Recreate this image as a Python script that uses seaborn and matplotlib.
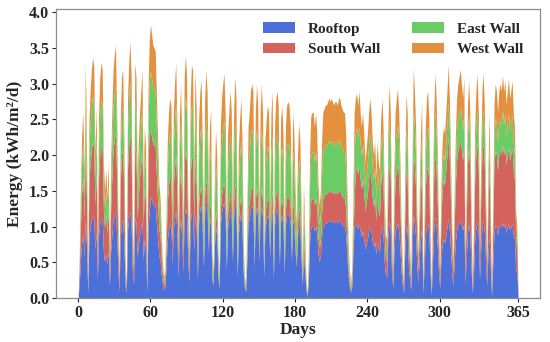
"""Daily PV energy by surface, stacked over one year."""

import matplotlib
matplotlib.use("Agg")
import matplotlib.pyplot as plt
import numpy as np
import seaborn as sns

days = np.arange(0, 366)
surfaces = ["Rooftop", "South Wall", "East Wall", "West Wall"]
x_ticks = [0, 60, 120, 180, 240, 300, 365]
y_ticks = [0.0, 0.5, 1.0, 1.5, 2.0, 2.5, 3.0, 3.5, 4.0]

# kWh/m2/d, one value per day
rooftop = [
    0, .20, .54, .78, .88, .58, 1.12, .71, .07, .85,
    .99, 1.09, 1.15, 1.10, .68, .92, .27, .88, 1.05, 1.12,
    1.09, .65, .51, .61, .48, .65, .17, .65, .88, 1.09,
    1.16, 1.21, .88, .41, .10, .85, 1.05, 1.09, .75, .17,
    .07, .95, 1.12, 1.22, 1.05, .34, .20, 1.12, 1.05, .58,
    .75, .88, .99, 1.09, .54, .82, .71, .07, .99, 1.22,
    1.42, 1.37, 1.31, 1.30, 1.28, 1.04, .81, .59, .52, .33,
    .19, .11, .15, .44, .81, .96, 1.04, 1.00, .48, .96,
    1.11, 1.22, .89, .30, .93, 1.11, .81, .37, 1.15, 1.26,
    1.15, .52, .22, 1.04, 1.20, 1.18, .67, 1.18, .96, .26,
    1.08, 1.25, 1.31, .95, .43, 1.20, 1.37, 1.25, .65, 1.03,
    1.14, .26, .17, .69, 1.01, .86, .30, .13, 1.03, 1.20,
    1.29, 1.35, 1.12, .39, .99, 1.12, 1.25, 1.14, .52, 1.12,
    1.33, 1.20, .30, .90, 1.08, 1.20, .95, .34, .13, .09,
    .52, 1.03, 1.12, 1.25, 1.29, 1.25, .43, 1.12, 1.29, 1.16,
    .52, 1.12, 1.29, 1.12, .30, .95, 1.08, 1.16, 1.12, .56,
    1.12, 1.25, .26, 1.03, 1.20, 1.25, 1.16, .47, 1.08, 1.16,
    .99, .34, 1.03, 1.16, 1.18, 1.16, 1.03, .52, 1.12, .99,
    .65, .43, .86, 1.05, .95, .52, .18, .62, .35, .12,
    .02, .23, .78, .99, 1.01, 1.01, .94, 1.01, .90, .62,
    .51, .59, .86, 1.01, 1.03, 1.05, 1.05, 1.07, 1.09, 1.07,
    1.09, 1.07, 1.05, 1.07, 1.07, 1.05, 1.09, 1.09, 1.05, 1.03,
    1.01, 1.01, .90, .59, .31, .16, .08, .16, .59, 1.01,
    1.01, 1.03, .97, 1.04, .94, .86, .94, .83, .68, .76,
    .83, .94, 1.01, .94, .79, .72, .79, .61, .79, .68,
    .65, .90, 1.01, .86, .50, .32, .29, .86, 1.08, .94,
    .36, .14, .65, .94, 1.01, 1.05, .94, .68, .36, .18,
    .07, .65, 1.03, .94, .43, .25, .11, .68, 1.16, 1.04,
    .86, .43, .22, .54, .83, .99, .07, .40, .86, 1.01,
    1.04, .90, .36, .04, .50, .94, 1.13, 1.01, .72, .36,
    .14, .54, .75, .82, .78, .88, .99, 1.11, .95, .65,
    .34, .17, .51, .78, .95, 1.02, 1.05, 1.09, 1.02, .95,
    1.05, .20, .54, .92, 1.04, .88, .41, .07, .34, .82,
    .99, 1.07, .88, .27, .68, .99, 1.07, .92, .51, .17,
    .61, .88, .41, .02, .48, .92, 1.02, .99, .88, .99,
    1.02, .99, 1.06, .99, 1.04, .92, .99, 1.04, .95, .99,
    1.04, .88, .82, .41, .34, 0,
]

south_wall = [
    0, .19, .50, .71, .81, .53, 1.02, .65, .06, .78,
    .90, .99, 1.04, 1.01, .62, .84, .25, .81, .96, 1.02,
    .99, .59, .47, .56, .43, .59, .16, .59, .81, .99,
    1.05, 1.10, .81, .37, .09, .78, .96, .99, .68, .16,
    .06, .87, 1.02, 1.12, .96, .31, .19, 1.02, .96, .53,
    .68, .81, .90, .99, .50, .74, .65, .06, .90, 1.12,
    .92, .89, .85, .84, .83, .67, .53, .38, .34, .22,
    .12, .07, .10, .29, .53, .62, .67, .65, .31, .62,
    .72, .79, .58, .19, .60, .72, .53, .24, .74, .82,
    .74, .34, .14, .67, .78, .77, .43, .77, .62, .17,
    .23, .26, .27, .20, .09, .25, .29, .26, .14, .22,
    .24, .05, .04, .14, .21, .18, .06, .03, .22, .25,
    .27, .28, .23, .08, .21, .23, .26, .24, .11, .23,
    .28, .25, .06, .19, .23, .25, .20, .07, .03, .02,
    .11, .22, .23, .26, .27, .26, .09, .23, .27, .24,
    .11, .23, .27, .23, .06, .20, .23, .24, .23, .12,
    .23, .26, .05, .22, .25, .26, .24, .10, .23, .24,
    .21, .07, .22, .24, .25, .24, .22, .11, .23, .21,
    .14, .09, .18, .22, .20, .11, .07, .24, .14, .05,
    .01, .09, .30, .38, .39, .39, .36, .39, .35, .24,
    .20, .22, .33, .39, .40, .41, .41, .41, .42, .41,
    .42, .41, .41, .41, .41, .41, .42, .42, .41, .40,
    .39, .39, .35, .22, .12, .06, .03, .06, .22, .39,
    .78, .80, .76, .81, .73, .67, .73, .64, .53, .59,
    .64, .73, .78, .73, .62, .56, .62, .48, .62, .53,
    .50, .70, .78, .67, .39, .25, .22, .67, .84, .73,
    .28, .11, .50, .73, .78, .82, .73, .53, .28, .14,
    .06, .50, .80, .73, .34, .20, .08, .53, .90, .81,
    .67, .34, .17, .42, .64, .77, .06, .31, .67, .78,
    .81, .70, .28, .03, .39, .73, .88, .78, .56, .28,
    .14, .56, .77, .84, .81, .91, 1.02, 1.14, .98, .66,
    .35, .18, .52, .81, .98, 1.05, 1.09, 1.12, 1.05, .98,
    1.09, .21, .56, .95, 1.07, .91, .42, .07, .35, .84,
    1.02, 1.10, .91, .28, .70, 1.02, 1.10, .95, .52, .18,
    .63, .91, .42, .02, .49, .95, 1.05, 1.02, .91, 1.02,
    1.05, 1.02, 1.10, 1.02, 1.07, .95, 1.02, 1.07, .98, 1.02,
    1.07, .91, .84, .42, .35, 0,
]

east_wall = [
    0, .11, .30, .44, .49, .32, .63, .40, .04, .47,
    .55, .61, .64, .62, .38, .51, .15, .49, .59, .63,
    .61, .36, .29, .34, .27, .36, .10, .36, .49, .61,
    .65, .67, .49, .23, .06, .47, .59, .61, .42, .10,
    .04, .53, .63, .68, .59, .19, .11, .63, .59, .32,
    .42, .49, .55, .61, .30, .46, .40, .04, .55, .68,
    .84, .81, .78, .77, .76, .62, .48, .35, .31, .20,
    .11, .07, .09, .26, .48, .57, .62, .59, .29, .57,
    .66, .73, .53, .18, .55, .66, .48, .22, .68, .75,
    .68, .31, .13, .62, .72, .70, .40, .70, .57, .15,
    .68, .78, .82, .59, .27, .76, .86, .78, .41, .65,
    .72, .16, .11, .43, .64, .54, .19, .08, .65, .76,
    .81, .85, .70, .24, .62, .70, .78, .72, .32, .70,
    .84, .76, .19, .57, .68, .76, .59, .22, .08, .05,
    .32, .65, .70, .78, .81, .78, .27, .70, .81, .73,
    .32, .70, .81, .70, .19, .59, .68, .73, .70, .35,
    .70, .78, .16, .65, .76, .78, .73, .30, .68, .73,
    .62, .22, .65, .73, .74, .73, .65, .32, .70, .62,
    .41, .27, .54, .66, .59, .32, .11, .40, .22, .07,
    .01, .15, .50, .64, .65, .65, .60, .65, .57, .40,
    .32, .38, .55, .65, .66, .68, .68, .69, .70, .69,
    .70, .69, .68, .69, .69, .68, .70, .70, .68, .66,
    .65, .65, .57, .38, .20, .10, .05, .10, .38, .65,
    .53, .55, .51, .55, .49, .46, .49, .44, .36, .40,
    .44, .49, .53, .49, .42, .38, .42, .32, .42, .36,
    .34, .48, .53, .46, .27, .17, .15, .46, .57, .49,
    .19, .08, .34, .49, .53, .56, .49, .36, .19, .10,
    .04, .34, .54, .49, .23, .13, .06, .36, .61, .55,
    .46, .23, .11, .29, .44, .52, .04, .21, .46, .53,
    .55, .48, .19, .02, .27, .49, .60, .53, .38, .19,
    .06, .24, .33, .36, .34, .39, .43, .49, .42, .29,
    .15, .07, .23, .34, .42, .45, .46, .48, .45, .42,
    .46, .09, .24, .40, .46, .39, .18, .03, .15, .36,
    .43, .47, .39, .12, .30, .43, .47, .40, .23, .07,
    .27, .39, .18, .01, .21, .40, .45, .43, .39, .43,
    .45, .43, .47, .43, .46, .40, .43, .46, .42, .43,
    .46, .39, .36, .18, .15, 0,
]

west_wall = [
    0, .10, .26, .37, .42, .27, .53, .34, .03, .40,
    .46, .51, .54, .52, .32, .43, .13, .42, .50, .53,
    .51, .30, .23, .29, .22, .30, .07, .30, .42, .51,
    .54, .57, .42, .19, .05, .40, .50, .51, .35, .07,
    .03, .45, .53, .58, .50, .16, .10, .53, .50, .27,
    .35, .42, .46, .51, .26, .38, .34, .03, .46, .58,
    .65, .63, .61, .59, .58, .47, .38, .28, .23, .15,
    .08, .05, .06, .21, .38, .45, .47, .46, .22, .45,
    .51, .56, .40, .13, .42, .51, .38, .17, .53, .57,
    .53, .23, .11, .47, .55, .55, .30, .55, .45, .12,
    .51, .61, .65, .46, .21, .59, .66, .61, .30, .50,
    .55, .13, .08, .34, .50, .42, .15, .06, .50, .59,
    .63, .67, .55, .19, .48, .55, .61, .55, .25, .55,
    .65, .59, .15, .44, .51, .59, .46, .17, .06, .04,
    .25, .50, .55, .61, .63, .61, .21, .55, .63, .57,
    .25, .55, .63, .55, .15, .46, .51, .57, .55, .27,
    .55, .61, .13, .50, .59, .61, .57, .23, .51, .57,
    .48, .17, .50, .57, .58, .57, .50, .25, .55, .48,
    .30, .21, .42, .52, .46, .25, .09, .34, .19, .06,
    .01, .13, .42, .54, .55, .55, .50, .55, .48, .34,
    .27, .31, .46, .55, .56, .56, .56, .58, .59, .58,
    .59, .58, .56, .58, .58, .56, .59, .59, .56, .56,
    .55, .55, .48, .31, .17, .08, .04, .08, .31, .55,
    .48, .49, .46, .50, .44, .41, .44, .39, .33, .35,
    .39, .44, .48, .44, .37, .34, .37, .29, .37, .33,
    .31, .42, .48, .41, .24, .16, .14, .41, .51, .44,
    .17, .07, .31, .44, .48, .50, .44, .33, .17, .08,
    .03, .31, .48, .44, .20, .12, .05, .33, .55, .50,
    .41, .20, .10, .25, .39, .47, .03, .18, .41, .48,
    .50, .42, .17, .01, .24, .44, .54, .48, .34, .17,
    .06, .26, .35, .38, .37, .42, .46, .53, .45, .30,
    .16, .08, .24, .37, .45, .48, .50, .51, .48, .45,
    .50, .10, .26, .43, .48, .42, .19, .03, .16, .38,
    .46, .51, .42, .13, .32, .46, .51, .43, .24, .08,
    .29, .42, .19, .00, .22, .43, .48, .46, .42, .46,
    .48, .46, .50, .46, .48, .43, .46, .50, .45, .46,
    .48, .42, .38, .19, .16, 0,
]

sns.set_theme(style="ticks")
plt.rcParams["font.family"] = ["Liberation Serif", "DejaVu Serif"]
plt.rcParams["font.weight"] = "bold"

muted = sns.color_palette("muted")
colors = ["#4b70d9", "#d4625d", muted[2], "#e3913f"]

fig = plt.figure(figsize=(5.5, 3.42), dpi=100)
ax = fig.add_axes([0.102, 0.129, 0.880, 0.845])

ax.stackplot(
    days,
    rooftop,
    south_wall,
    east_wall,
    west_wall,
    labels=surfaces,
    colors=colors,
    linewidth=0,
)

ax.set_xlim(-18.25, 383.25)
ax.set_ylim(0, 4.05)
ax.set_xticks(x_ticks)
ax.set_yticks(y_ticks)
ax.set_yticklabels([f"{v:.1f}" for v in y_ticks])
ax.tick_params(axis="both", labelsize=11.5, length=3, width=0.8, pad=2)
for label in ax.get_xticklabels() + ax.get_yticklabels():
    label.set_fontweight("bold")

ax.set_xlabel("Days", fontsize=12.5, fontweight="bold", labelpad=1)
ax.set_ylabel("Energy (kWh/m²/d)", fontsize=12.5, fontweight="bold", labelpad=4)

for spine in ax.spines.values():
    spine.set_visible(True)
    spine.set_color("#8c8c8c")
    spine.set_linewidth(0.9)

ax.legend(
    ncol=2,
    loc="upper right",
    frameon=False,
    handlelength=2.1,
    handleheight=0.65,
    handletextpad=0.85,
    columnspacing=2.1,
    labelspacing=0.45,
    borderaxespad=0.2,
    bbox_to_anchor=(0.985, 0.985),
    prop={"weight": "bold", "size": 11},
)

fig.savefig("out.png", dpi=100)
